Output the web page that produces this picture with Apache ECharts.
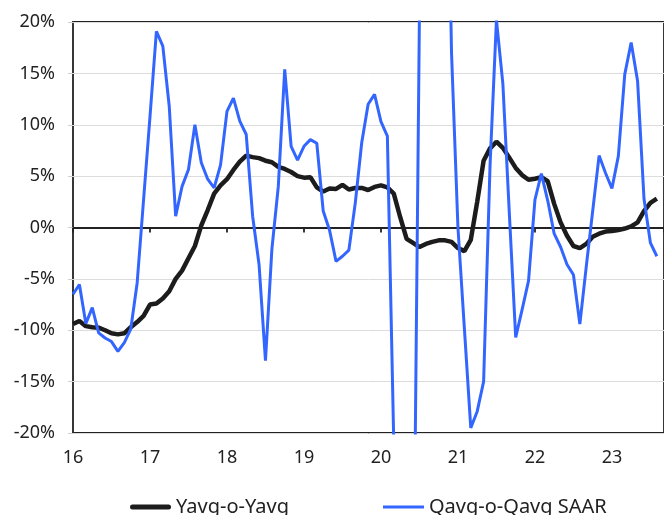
<!DOCTYPE html>
<html>
<head>
<meta charset="utf-8">
<script src="https://cdn.jsdelivr.net/npm/echarts@6/dist/echarts.min.js"></script>
<style>
html,body{margin:0;padding:0;background:#fff;}
#c{width:664px;height:515px;}
</style>
</head>
<body>
<div id="c"></div>
<script>
// Monthly observations starting Jan 2016
const startYear = 2016;
const yavgSeriesName = 'Yavg-o-Yavg';
const qavgSeriesName = 'Qavg-o-Qavg SAAR';
const yavg = [
  -9.4, -9.1, -9.6, -9.7, -9.75, -10.0, -10.3, -10.4, -10.3, -9.7, -9.2, -8.6,
  -7.5, -7.4, -6.9, -6.2, -5.0, -4.2, -3.0, -1.8, 0.2, 1.7, 3.3, 4.1,
  4.7, 5.6, 6.4, 7.0, 6.85, 6.75, 6.5, 6.35, 5.9, 5.7, 5.4, 5.0,
  4.85, 4.9, 3.9, 3.5, 3.8, 3.75, 4.15, 3.7, 3.85, 3.85, 3.65, 3.95,
  4.1, 3.9, 3.3, 1.0, -1.1, -1.5, -1.9, -1.6, -1.4, -1.25, -1.25, -1.4,
  -2.0, -2.3, -1.2, 2.5, 6.5, 7.7, 8.35, 7.75, 6.8, 5.8, 5.1, 4.65,
  4.75, 4.9, 4.5, 2.3, 0.5, -0.8, -1.8, -2.0, -1.6, -0.9, -0.6, -0.4,
  -0.35, -0.25, -0.1, 0.1, 0.5, 1.6, 2.4, 2.8
];
const qavg = [
  -6.5, -5.55, -9.35, -7.8, -10.25, -10.75, -11.1, -12.05, -11.2, -9.9, -5.4, 2.7,
  10.8, 19.1, 17.65, 11.8, 1.1, 4.0, 5.65, 10.0, 6.3, 4.7, 3.85, 6.1,
  11.3, 12.6, 10.35, 9.05, 1.1, -3.6, -12.95, -2.1, 4.0, 15.4, 7.9, 6.55,
  7.9, 8.55, 8.2, 1.6, -0.3, -3.3, -2.8, -2.2, 2.4, 8.25, 12.0, 12.95,
  10.3, 8.9, -21, -38, -45, -43, 21, 35, 40, 45, 50, 17,
  0.0, -9.8, -19.5, -17.9, -15.0, 6, 20.2, 14.0, 1.5, -10.7, -8.0, -5.2,
  2.7, 5.25, 2.6, -0.6, -1.9, -3.6, -4.6, -9.4, -3.8, 1.6, 7.0, 5.3,
  3.8, 6.95, 14.9, 18.0, 14.25, 2.8, -1.5, -2.8
];
const yTicks = [-20, -15, -10, -5, 0, 5, 10, 15, 20];

const toPairs = arr => arr.map((v, i) => [startYear + i / 12, v]);

const chart = echarts.init(document.getElementById('c'), null, {renderer: 'canvas'});
const FONT = 'Noto Sans';
const DARK = '#222222';
const BLACK = '#1c1c1c';
const BLUE = '#3366ff';
chart.setOption({
  animation: false,
  backgroundColor: '#ffffff',
  grid: {
    left: 73, right: -2, top: 22, bottom: 82,
    show: true, borderColor: DARK, borderWidth: 1.8, backgroundColor: 'transparent'
  },
  legend: {
    left: 125, top: 492,
    itemWidth: 41, itemHeight: 14, itemGap: 94,
    symbolKeepAspect: true,
    textStyle: {fontFamily: FONT, fontSize: 20, color: DARK},
    data: [
      {name: yavgSeriesName, icon: 'path://M2.5,0 L38.5,0 A2.5,2.5 0 0 1 38.5,5 L2.5,5 A2.5,2.5 0 0 1 2.5,0 Z', itemStyle: {color: BLACK}},
      {name: qavgSeriesName, icon: 'path://M0,0 L41,0 L41,3 L0,3 Z', itemStyle: {color: BLUE}}
    ]
  },
  xAxis: [
    {
      type: 'value', min: startYear, max: startYear + 593 / 77.25, interval: 1,
      position: 'bottom',
      axisLine: {show: false, onZero: false},
      axisTick: {show: false},
      splitLine: {show: false},
      axisLabel: {
        show: true, margin: 16, showMaxLabel: false,
        fontFamily: FONT, fontSize: 18, color: DARK,
        formatter: v => Number.isInteger(v) ? String(v).slice(2) : ''
      }
    },
    {
      type: 'value', min: startYear, max: startYear + 593 / 77.25, interval: 1,
      position: 'top',
      axisLine: {show: true, onZero: true, lineStyle: {color: DARK, width: 1.8}},
      axisTick: {show: true, inside: true, length: 5, lineStyle: {color: DARK, width: 1.8}},
      splitLine: {show: false},
      axisLabel: {show: false}
    }
  ],
  yAxis: {
    type: 'value', min: yTicks[0], max: yTicks[yTicks.length - 1], interval: 5,
    axisLine: {show: false},
    axisTick: {show: true, length: 5, lineStyle: {color: '#cfcfcf', width: 1}},
    splitLine: {show: true, lineStyle: {color: '#dcdcdc', width: 1}},
    axisLabel: {
      margin: 18, fontFamily: FONT, fontSize: 18, color: DARK,
      formatter: '{value}%'
    }
  },
  series: [
    {
      name: yavgSeriesName, type: 'line', xAxisIndex: 0,
      data: toPairs(yavg), showSymbol: false, symbol: 'none', clip: true,
      lineStyle: {color: BLACK, width: 4.5},
      itemStyle: {color: BLACK}, z: 3
    },
    {
      name: qavgSeriesName, type: 'line', xAxisIndex: 0,
      data: toPairs(qavg), showSymbol: false, symbol: 'none', clip: true,
      lineStyle: {color: BLUE, width: 3},
      itemStyle: {color: BLUE}, z: 4
    }
  ]
});
</script>
</body>
</html>
